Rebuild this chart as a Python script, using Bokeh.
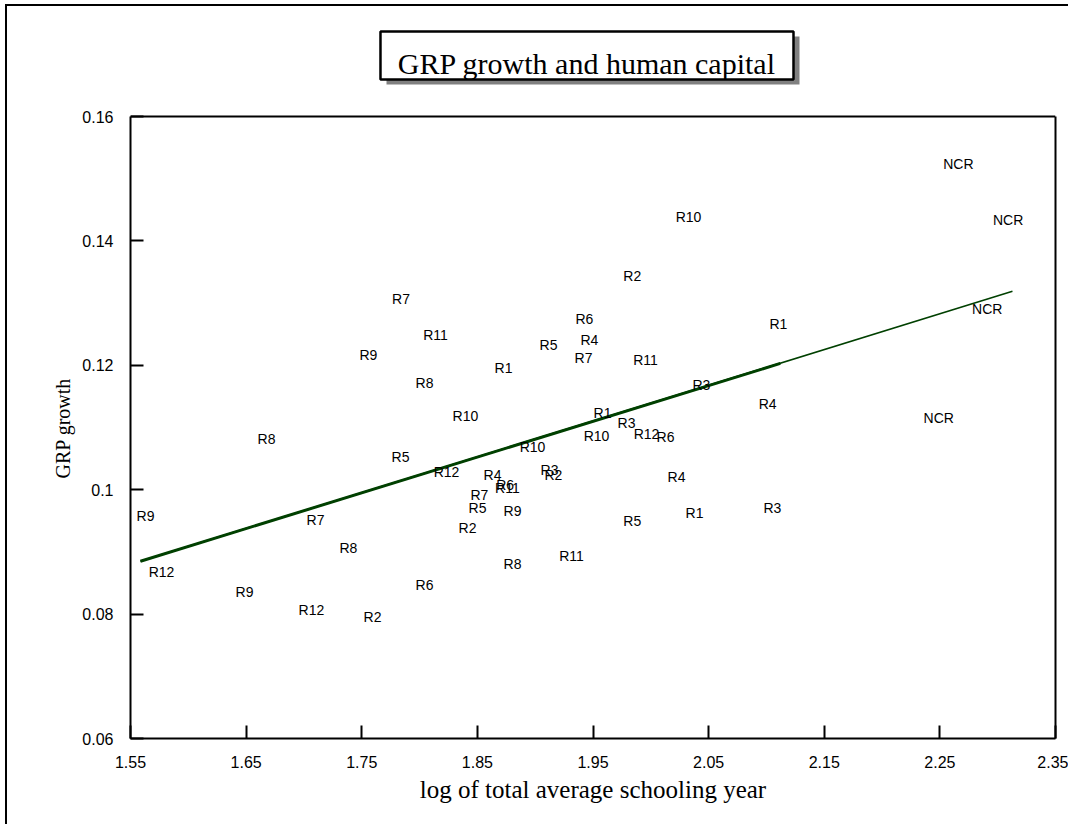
from bokeh.plotting import figure
from bokeh.models import (FixedTicker, ColumnDataSource, Range1d, LinearAxis,
                          Span, BoxAnnotation, Label, Title)
from bokeh.embed import file_html
from bokeh.resources import INLINE
from bokeh.core.properties import value

# ---- data ----
regions = ["NCR", "NCR", "NCR", "NCR",
           "R1", "R1", "R1", "R1",
           "R2", "R2", "R2", "R2",
           "R3", "R3", "R3", "R3",
           "R4", "R4", "R4", "R4",
           "R5", "R5", "R5", "R5",
           "R6", "R6", "R6", "R6",
           "R7", "R7", "R7", "R7",
           "R8", "R8", "R8", "R8",
           "R9", "R9", "R9", "R9",
           "R10", "R10", "R10", "R10",
           "R11", "R11", "R11", "R11",
           "R12", "R12", "R12", "R12"]
schooling = [2.266, 2.309, 2.291, 2.249,
             1.8726, 2.1104, 1.9582, 2.0378,
             1.984, 1.9158, 1.8415, 1.7593,
             2.0438, 1.979, 1.9124, 2.1052,
             1.9469, 2.101, 1.8631, 2.0222,
             1.9115, 1.7835, 1.8501, 1.984,
             1.9426, 2.0127, 1.8740, 1.8043,
             1.784, 1.9418, 1.8518, 1.710,
             1.8043, 1.6676, 1.7385, 1.8804,
             1.7558, 1.8804, 1.563, 1.6486,
             2.0326, 1.8397, 1.953, 1.8977,
             1.8138, 1.9954, 1.9314, 1.876,
             1.8233, 1.9963, 1.5768, 1.7065]
growth = [0.1524, 0.1434, 0.1291, 0.1116,
          0.1196, 0.1267, 0.1124, 0.0963,
          0.1343, 0.1023, 0.0938, 0.0795,
          0.1169, 0.1108, 0.1031, 0.0971,
          0.1241, 0.1137, 0.1023, 0.1020,
          0.1233, 0.1052, 0.0970, 0.0949,
          0.1274, 0.1084, 0.1008, 0.0846,
          0.1306, 0.1211, 0.0992, 0.0952,
          0.1172, 0.1081, 0.0907, 0.0881,
          0.1216, 0.0965, 0.0957, 0.0836,
          0.1439, 0.1119, 0.1086, 0.1068,
          0.1248, 0.1209, 0.0893, 0.1002,
          0.1028, 0.1090, 0.0868, 0.0807]

fit_x = [1.5586, 2.3128]
fit_y = [0.0885, 0.1319]
fit_x_overlap = [1.5586, 2.112]
fit_y_overlap = [0.0885, 0.1203]

x_ticks = [1.55, 1.65, 1.75, 1.85, 1.95, 2.05, 2.15, 2.25, 2.35]
x_tick_labels = ["1.55", "1.65", "1.75", "1.85", "1.95", "2.05", "2.15", "2.25", "2.35"]
y_ticks = [0.06, 0.08, 0.10, 0.12, 0.14, 0.16]
y_tick_labels = ["0.06", "0.08", "0.1", "0.12", "0.14", "0.16"]

title_text = "GRP growth and human capital"
x_title = "log of total average schooling year"
y_title = "GRP growth"

X_MIN, X_MAX = 1.55, 2.35
Y_MIN, Y_MAX = 0.06, 0.16
Y_TOP = 0.17447   # extra head-room inside the frame for the framed title

# ---- figure ----
p = figure(width=1063, height=820, output_backend="svg", toolbar_location=None,
           x_range=Range1d(X_MIN, X_MAX), y_range=Range1d(Y_MIN, Y_TOP),
           min_border_left=123, min_border_right=15, min_border_top=20,
           min_border_bottom=88, margin=(4, 0, 0, 5))
p.styles = {"border-left": "2px solid black", "border-top": "2px solid black"}
p.grid.visible = False
p.outline_line_color = None

right_axis = LinearAxis()
p.add_layout(right_axis, "right")

for ax, ticks, labels in ((p.xaxis[0], x_ticks, x_tick_labels),
                          (p.yaxis[0], y_ticks, y_tick_labels)):
    ax.ticker = FixedTicker(ticks=ticks)
    ax.major_label_overrides = {tk: lb for tk, lb in zip(ticks, labels)}
    ax.major_tick_in = 13
    ax.major_tick_out = 0
    ax.minor_tick_line_color = None
    ax.axis_line_width = 2
    ax.major_tick_line_width = 2
    ax.major_label_text_font = "Liberation Sans"
    ax.major_label_text_font_size = "16px"
    ax.major_label_text_color = "black"
    ax.axis_label_text_font = "Liberation Serif"
    ax.axis_label_text_font_style = "normal"
    ax.axis_label_text_color = "black"

p.yaxis[0].bounds = (Y_MIN, Y_MAX)
p.xaxis[0].axis_label = x_title
p.xaxis[0].axis_label_text_font_size = "25px"
p.xaxis[0].major_label_standoff = 17
p.yaxis[0].major_label_standoff = 17
p.xaxis[0].axis_label_standoff = 5

# y-axis title, centred on the 0.06-0.16 span of the axis
p.add_layout(Title(text=y_title, align="left", offset=260, standoff=12,
                   text_font="Liberation Serif", text_font_size="20px",
                   text_font_style="normal", text_color="black"), "left")

right_axis.bounds = (Y_MIN, Y_MAX)
right_axis.ticker = FixedTicker(ticks=[])
right_axis.major_tick_line_color = None
right_axis.minor_tick_line_color = None
right_axis.major_label_text_font_size = "0px"
right_axis.axis_line_width = 2

# top edge of the plot box
p.add_layout(Span(location=Y_MAX, dimension="width", line_color="black", line_width=2))

src = ColumnDataSource(dict(x=schooling, y=growth, label=regions))

p.line(fit_x, fit_y, line_color="#004000", line_width=1.6)
p.line(fit_x_overlap, fit_y_overlap, line_color="#004000", line_width=3)

p.text(x="x", y="y", text="label", source=src, text_font=value("Liberation Sans"),
       text_font_size="14px", text_align="center", text_baseline="middle",
       text_color="black")

# framed title with drop shadow (decoration, placed in the head-room)
p.add_layout(BoxAnnotation(left=1.7714, right=2.1286, top=0.17286, bottom=0.16514,
                           fill_color="#808080", fill_alpha=1.0, line_color=None))
p.add_layout(BoxAnnotation(left=1.7662, right=2.1234, top=0.17367, bottom=0.16595,
                           fill_color="white", fill_alpha=1.0, line_color="black",
                           line_width=2.5, line_alpha=1.0))
p.add_layout(Label(x=1.9448, y=0.16852, text=title_text, text_align="center",
                   text_baseline="alphabetic", text_font="Liberation Serif",
                   text_font_size="30px", text_color="black"))

open("out.html", "w").write(file_html(p, INLINE))
